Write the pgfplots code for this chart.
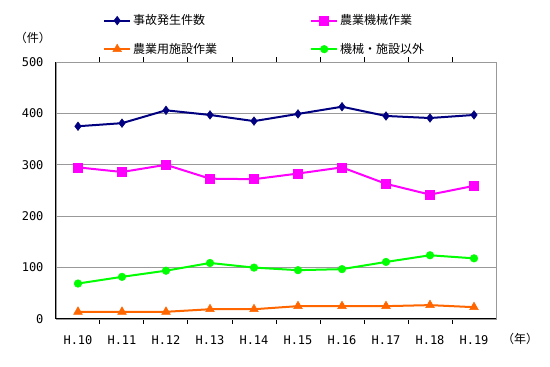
\documentclass[border=0pt]{standalone}
\usepackage{fontspec}
\setmainfont{Noto Sans CJK JP}
\newfontfamily\monofont{DejaVu Sans Mono}
\usepackage{pgfplots}
\pgfplotsset{compat=1.18}
\definecolor{cnavy}{HTML}{000080}
\definecolor{cmag}{HTML}{FF00FF}
\definecolor{corange}{HTML}{FF6600}
\definecolor{cgreen}{HTML}{00FF00}
\begin{document}
\begin{tikzpicture}[x=1pt,y=1pt]
\path[use as bounding box] (-56,-48) rectangle (494,319);
\begin{axis}[
  anchor=south west,
  scale only axis, width=440pt, height=257pt,
  xmin=-0.5, xmax=9.5, ymin=0, ymax=500,
  xtick={0,...,9},
  xticklabels={H.10,H.11,H.12,H.13,H.14,H.15,H.16,H.17,H.18,H.19},
  minor xtick={0.5,1.5,...,8.5},
  ytick={0,100,...,500},
  major tick length=0pt,
  minor tick length=5pt,
  tick align=outside,
  minor tick style={black, line width=1pt},
  ymajorgrids,
  major grid style={gray!80, line width=0.8pt},
  axis line style={gray!80, line width=0.8pt},
  tick label style={font=\monofont\fontsize{12}{14}\selectfont},
  xticklabel style={yshift=-13pt},
  yticklabel style={xshift=-9pt},
  /pgf/number format/assume math mode=true,
  clip=false,
  legend columns=2,
  legend style={draw=none, fill=none, at={(0.1,1.2)}, anchor=north west,
    font=\fontsize{12}{14}\selectfont, row sep=13pt,
    nodes={text width=175pt, align=left, anchor=west}},
  legend cell align=left,
  legend image code/.code={
    \draw[#1] (0pt,0pt) -- (26pt,0pt);
    \draw[#1, only marks] plot coordinates {(13pt,0pt)};
  },
]
\addplot[cnavy, line width=2pt, mark=diamond*, mark size=4.3pt, mark options={fill=cnavy, draw=cnavy, line width=0.5pt}]
  coordinates {(0,375) (1,381) (2,406) (3,397) (4,385) (5,399) (6,413) (7,395) (8,391) (9,397)};
\addlegendentry{事故発生件数}
\addplot[cmag, line width=2pt, mark=square*, mark size=4.5pt, mark options={fill=cmag, draw=cmag, line width=0.5pt}]
  coordinates {(0,295) (1,286) (2,300) (3,273) (4,272) (5,283) (6,295) (7,263) (8,242) (9,259)};
\addlegendentry{農業機械作業}
\addplot[corange, line width=2pt, mark=triangle*, mark size=5pt, mark options={fill=corange, draw=corange, line width=0.5pt}]
  coordinates {(0,14) (1,14) (2,14) (3,19) (4,19) (5,25) (6,25) (7,25) (8,27) (9,23)};
\addlegendentry{農業用施設作業}
\addplot[cgreen, line width=2pt, mark=*, mark size=3.8pt, mark options={fill=cgreen, draw=cgreen, line width=0.5pt}]
  coordinates {(0,69) (1,82) (2,94) (3,109) (4,100) (5,95) (6,97) (7,111) (8,124) (9,118)};
\addlegendentry{機械・施設以外}
\draw[black, line width=1pt] (rel axis cs:0,1) -- (rel axis cs:0,0) -- (rel axis cs:1,0);
\end{axis}
\node[font=\fontsize{12}{14}\selectfont] at (-23,281) {（件）};
\node[font=\fontsize{12}{14}\selectfont] at (464,-20) {（年）};
\end{tikzpicture}
\end{document}
